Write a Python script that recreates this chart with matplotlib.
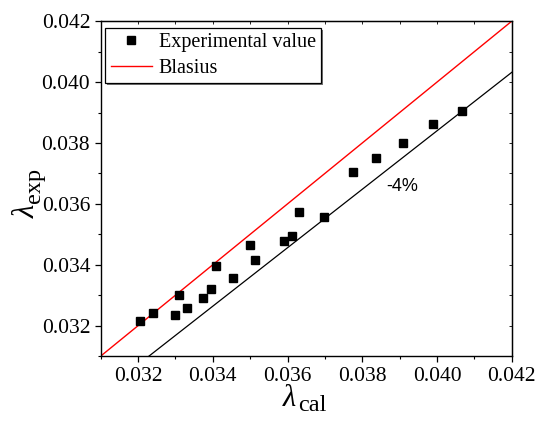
import matplotlib
matplotlib.use("Agg")
import matplotlib.pyplot as plt
import numpy as np
from matplotlib.ticker import MultipleLocator, FormatStrFormatter
from matplotlib.patches import Rectangle

plt.rcParams['font.family'] = ['Liberation Serif', 'DejaVu Serif']

lam_cal = [0.03206, 0.03239, 0.03300, 0.03311, 0.03330, 0.03374, 0.03395,
           0.03410, 0.03453, 0.03500, 0.03512, 0.03591, 0.03612, 0.03631,
           0.03698, 0.03775, 0.03837, 0.03910, 0.03990, 0.04068]
lam_exp = [0.03216, 0.03241, 0.03236, 0.03302, 0.03258, 0.03291, 0.03320,
           0.03397, 0.03356, 0.03464, 0.03415, 0.03479, 0.03496, 0.03575,
           0.03556, 0.03704, 0.03750, 0.03800, 0.03863, 0.03906]
line_x = [0.031, 0.042]
dev_factor = 0.96

W, H = 541, 423
fig = plt.figure(figsize=(W / 100, H / 100), dpi=100)
ax = fig.add_axes([0.186, 0.158, 0.760, 0.792])

lx = np.array(line_x)
ax.plot(lx, lx, color='red', lw=1.0, label='Blasius', zorder=2)
ax.plot(lx, lx * dev_factor, color='black', lw=0.9, zorder=2)
ax.plot(lam_cal, lam_exp, 's', color='black', ms=5.5, ls='none',
        label='Experimental value', zorder=3)

ax.set_xlim(0.031, 0.042)
ax.set_ylim(0.031, 0.042)
ax.xaxis.set_major_locator(MultipleLocator(0.002))
ax.xaxis.set_minor_locator(MultipleLocator(0.001))
ax.yaxis.set_major_locator(MultipleLocator(0.002))
ax.yaxis.set_minor_locator(MultipleLocator(0.001))
ax.xaxis.set_major_formatter(FormatStrFormatter('%.3f'))
ax.yaxis.set_major_formatter(FormatStrFormatter('%.3f'))
ax.tick_params(which='major', direction='out', length=4, width=0.9,
               labelsize=15.5, labelfontfamily='Liberation Serif')
ax.tick_params(which='minor', direction='out', length=2.5, width=0.8)
for s in ax.spines.values():
    s.set_linewidth(1.0)

secx = ax.secondary_xaxis('top')
secx.xaxis.set_major_locator(MultipleLocator(0.002))
secx.xaxis.set_minor_locator(MultipleLocator(0.001))
secx.tick_params(which='both', direction='in', length=2, width=0.6, labeltop=False)
secy = ax.secondary_yaxis('right')
secy.yaxis.set_major_locator(MultipleLocator(0.002))
secy.yaxis.set_minor_locator(MultipleLocator(0.001))
secy.tick_params(which='both', direction='in', length=2, width=0.6, labelright=False)


def px(x, y):
    return x / W, (H - y) / H


ax.text(0.03907, 0.03656, '-4%', fontsize=13, family='Liberation Sans',
        ha='center', va='center')

handles, labels = ax.get_legend_handles_labels()
leg = ax.legend(handles[::-1], labels[::-1], loc='upper left',
                bbox_to_anchor=(0.002, 0.992), fontsize=14.5, frameon=True,
                fancybox=False, edgecolor='black', framealpha=1,
                handlelength=2.05, borderpad=0.25, labelspacing=0.35,
                handletextpad=0.35, borderaxespad=0.2)
leg.get_frame().set_linewidth(0.9)
leg.set_zorder(6)

# axis labels: lambda with large subscripts
lx_t = fig.text(*px(283, 406), 'λ', fontsize=22, fontstyle='italic',
                ha='left', va='baseline')
ly_t = fig.text(*px(35, 218), 'λ', fontsize=22, fontstyle='italic',
                rotation=90, rotation_mode='anchor', ha='left', va='baseline')

fig.canvas.draw()
r = fig.canvas.get_renderer()
bx = lx_t.get_window_extent(r)
by = ly_t.get_window_extent(r)
# subscript "cal" right after lambda, lowered
fig.text((bx.x1 + 1.5) / W, (H - 410.7) / H, 'cal', fontsize=17.5,
         ha='left', va='baseline')
# subscript "exp" above rotated lambda, shifted right (lowered)
fig.text(40.3 / W, (by.y1 + 1.5) / H, 'exp', fontsize=17.5, rotation=90,
         rotation_mode='anchor', ha='left', va='baseline')

# subtle legend shadow
fb = leg.get_frame().get_window_extent(r)
sh = Rectangle(((fb.x0 + 2) / W, (fb.y0 - 2) / H), fb.width / W, fb.height / H,
               transform=fig.transFigure, facecolor='0.45', edgecolor='none',
               zorder=5)
ax.add_artist(sh)
sh.set_clip_on(False)

fig.savefig('out.png', dpi=100)
